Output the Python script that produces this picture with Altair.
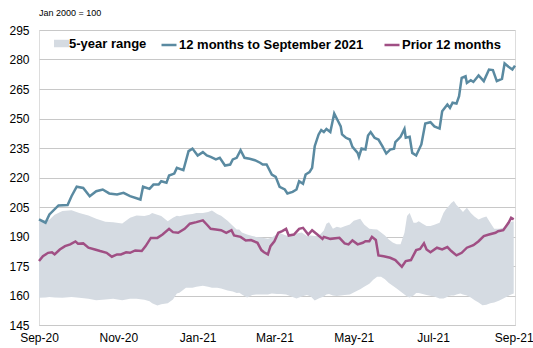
import altair as alt
import pandas as pd

START = pd.Timestamp("2020-09-01")

# 5-year range (day offsets from 1 Sep 2020)
band_day = [0, 5, 8, 12, 18, 25, 31, 38, 44, 51,
            57, 64, 70, 75, 81, 85, 87, 91, 94, 99,
            103, 106, 108, 113, 118, 121, 126, 130, 133, 137,
            140, 145, 149, 152, 154, 156, 160, 164, 167, 171,
            176, 179, 183, 186, 190, 194, 198, 202, 206, 209,
            212, 215, 219, 221, 223, 226, 229, 232, 235, 239,
            242, 245, 247, 250, 254, 257, 260, 263, 266, 269,
            272, 275, 278, 281, 283, 285, 288, 290, 292, 295,
            298, 301, 304, 308, 311, 313, 315, 317, 319, 321,
            324, 326, 329, 332, 335, 338, 341, 344, 347, 350,
            354, 357, 360, 363, 365]
band_high = [199, 198, 198.5, 201, 203, 203.4, 202, 200.7, 199, 197.5,
             197.3, 196.6, 199.5, 200.7, 200.4, 201, 202, 201, 200.4, 197.8,
             199.5, 200.5, 200.3, 201, 201.5, 202, 202, 202.5, 203.2, 201.5,
             200.5, 198, 195.5, 193.5, 193.5, 192, 191, 190.2, 189.8, 189.5,
             188.8, 189.5, 191.3, 191.5, 190.5, 190.2, 191.5, 192, 190.2, 190.5,
             190.2, 190.2, 193, 196.5, 197.3, 194, 195, 194.5, 195.2, 196.1,
             198, 198.7, 199, 196.1, 193.9, 193.7, 193.5, 192, 190.5, 188.5,
             187, 186, 186, 191.9, 200.4, 202, 197, 197, 197.8, 196.5,
             195.3, 195.3, 196, 197, 202, 204, 205.4, 207, 208, 206,
             204, 202.5, 204.6, 202, 200, 198.7, 199.5, 200.2, 197, 194,
             194, 194.5, 196, 197.5, 197.8]
band_low = [158.8, 159, 159.3, 159, 158.8, 159.3, 158.8, 158.3, 157.6, 158,
            158.3, 157.6, 158.3, 158.3, 157.8, 157.1, 156, 154.9, 155.5, 156,
            158, 161, 161.4, 164, 163.9, 164.5, 165, 164.5, 163.9, 163.9,
            163.5, 162.5, 162, 161.3, 161.4, 160.5, 159, 160.2, 160.5, 160.5,
            160.5, 161, 160.8, 160.8, 160.5, 159.5, 158.5, 159.5, 160.3, 159.5,
            157.5, 158.5, 159.5, 160.5, 160.8, 160, 159.7, 160, 160.2, 160.5,
            161.5, 162.5, 163.2, 164.5, 166, 168, 169.5, 169.5, 168.2, 166.4,
            165, 163.5, 162, 160.5, 159.5, 159, 160, 161.3, 161.3, 160.8,
            160.2, 159.9, 159.5, 158.5, 158.5, 159, 159.7, 160, 160, 160.5,
            161, 160.5, 160, 159, 157.6, 156.5, 155, 155.3, 156, 156.5,
            157.5, 158.5, 159.5, 160.5, 161]

# 12 months to September 2021
cur_day = [0, 5, 8, 15, 22, 25, 29, 34, 39, 44,
           49, 54, 60, 65, 70, 78, 80, 85, 88, 92,
           94, 98, 100, 104, 106, 111, 115, 118, 122, 126,
           129, 132, 136, 139, 143, 147, 149, 152, 155, 158,
           162, 166, 170, 172, 175, 179, 182, 185, 189, 191,
           195, 198, 200, 203, 205, 208, 210, 212, 215, 217,
           219, 221, 224, 227, 230, 232, 233, 236, 239, 241,
           245, 246, 248, 251, 253, 255, 258, 261, 264, 267,
           270, 273, 274, 278, 281, 282, 285, 287, 290, 294,
           297, 301, 304, 308, 310, 314, 316, 318, 321, 323,
           325, 328, 329, 332, 334, 338, 342, 346, 349, 352,
           356, 358, 361, 364, 366]
cur_val = [198.7, 197, 201.2, 205.8, 206, 210.5, 215.3, 214.7, 210.5, 213,
           213.9, 211.9, 211.4, 212.2, 210.5, 208.8, 215.3, 214.2, 216.4, 216.4,
           218.1, 217.3, 221, 222, 224.9, 223.7, 233.4, 234.7, 231.2, 232.9,
           231.2, 230.5, 229.2, 230, 226.1, 226.6, 229.2, 230, 233.9, 230,
           229.5, 228.8, 227.5, 226.6, 226.6, 221.5, 220.3, 215.3, 213.9, 211.9,
           212.7, 213.9, 218.1, 216.8, 221.5, 222.7, 224.9, 235.9, 241.9, 244.1,
           243.1, 244.7, 243.1, 252.5, 248.6, 246, 241.9, 240.2, 239.3, 235.6,
           232.5, 230.5, 234.7, 234.2, 241.4, 243.1, 240.2, 239.3, 235.9, 232.2,
           234.2, 234.6, 238, 240.7, 244.7, 240.2, 240.7, 232.5, 231.2, 236.8,
           247.5, 248.1, 246, 244.9, 253.7, 257.1, 255.4, 258, 257.6, 261.4,
           270.7, 271.5, 268.1, 269.5, 268.6, 271.9, 269, 274.9, 274.6, 269,
           270.2, 278, 276.3, 274.9, 276.9]

# Prior 12 months
prior_day = [0, 3, 7, 10, 12, 16, 20, 24, 28, 30,
             34, 38, 43, 47, 52, 56, 60, 63, 67, 70,
             74, 79, 82, 86, 91, 95, 100, 103, 107, 112,
             116, 121, 126, 129, 132, 136, 140, 144, 148, 150,
             155, 159, 163, 168, 171, 173, 176, 178, 181, 184,
             187, 190, 192, 196, 200, 203, 207, 210, 214, 218,
             219, 224, 231, 235, 238, 241, 245, 249, 251, 254,
             256, 259, 261, 265, 270, 274, 279, 282, 286, 290,
             293, 296, 298, 301, 306, 310, 314, 317, 321, 325,
             329, 334, 338, 342, 346, 351, 353, 357, 361, 363,
             365]
prior_val = [177.5, 180, 181.7, 182, 180.9, 183.4, 185.1, 186, 187.5, 186.3,
             186.5, 184.3, 183.4, 182.6, 181.7, 179.7, 180.9, 180.9, 182, 181.7,
             182.9, 182.6, 185.1, 189.3, 189.3, 191, 193.9, 192.2, 191.9, 193.9,
             196.5, 197.3, 198.2, 196.1, 193.9, 193.6, 193.2, 191.9, 193.2, 190.5,
             189.8, 188, 188.2, 186.8, 183.1, 182, 180.9, 185.1, 187.6, 191.9,
             192.7, 193.9, 190.5, 191, 193.9, 194.4, 191, 193.2, 191, 188.8,
             189.8, 188.8, 189.3, 186.5, 186, 188, 186, 186.8, 187.6, 187.6,
             189.8, 188.2, 180.4, 180, 179.2, 178, 174.6, 177.5, 178, 183.1,
             183.7, 186.5, 183.4, 182, 184.3, 183.4, 184.6, 182.6, 180.4, 181.7,
             184.3, 185.6, 187.6, 190.2, 191, 191.9, 192.7, 193.2, 197, 199.5,
             198.7]

series_names = ["5-year range", "12 months to September 2021", "Prior 12 months"]
colors = ["#d5dbe2", "#5a8aa1", "#a04f84"]
y_ticks = [145, 160, 175, 190, 205, 220, 235, 250, 265, 280, 295]

FONT = "Liberation Sans"


def to_dates(days):
    return START + pd.to_timedelta(days, unit="D")


band_df = pd.DataFrame({"date": to_dates(band_day), "high": band_high,
                        "low": band_low, "series": series_names[0]})
lines_df = pd.concat([
    pd.DataFrame({"date": to_dates(cur_day), "value": cur_val, "series": series_names[1]}),
    pd.DataFrame({"date": to_dates(prior_day), "value": prior_val, "series": series_names[2]}),
])

x_values = [alt.DateTime(year=2020, month=9, date=1), alt.DateTime(year=2020, month=11, date=1),
            alt.DateTime(year=2021, month=1, date=1), alt.DateTime(year=2021, month=3, date=1),
            alt.DateTime(year=2021, month=5, date=1), alt.DateTime(year=2021, month=7, date=1),
            alt.DateTime(year=2021, month=9, date=1)]

x_scale = alt.Scale(domain=[alt.DateTime(year=2020, month=9, date=1),
                            alt.DateTime(year=2021, month=9, date=2)])
y_scale = alt.Scale(domain=[145, 295], nice=False, zero=False)

x_axis = alt.Axis(values=x_values, format="%b-%y", title=None, grid=False,
                  ticks=False, domain=True, domainColor="#c8c8c8", domainWidth=1,
                  labelFont=FONT, labelFontSize=12, labelColor="#000",
                  labelPadding=7, labelFlush=False, labelOverlap=False,
                  labelBound=False)
y_axis = alt.Axis(values=y_ticks, title=None, grid=True, gridColor="#c8c8c8",
                  gridWidth=1, domain=False, ticks=False, labelFont=FONT,
                  labelFontSize=12, labelColor="#000", labelPadding=10,
                  labelOverlap=False)

band = alt.Chart(band_df).mark_area(opacity=1, interpolate="linear").encode(
    x=alt.X("date:T", scale=x_scale, axis=x_axis),
    y=alt.Y("high:Q", scale=y_scale, axis=y_axis),
    y2="low:Q",
    fill=alt.Fill("series:N",
                  scale=alt.Scale(domain=series_names[:1], range=colors[:1]),
                  legend=alt.Legend(orient="none", legendX=15, legendY=6,
                                    direction="horizontal", title=None,
                                    symbolType="M-1,-0.5H1V0.5H-1Z", symbolSize=225,
                                    symbolStrokeWidth=0, symbolOpacity=1,
                                    labelFont=FONT, labelFontSize=13,
                                    labelFontWeight="bold", labelColor="#000",
                                    labelOffset=0, labelLimit=300, padding=0)),
)

lines = alt.Chart(lines_df).mark_line(strokeWidth=2.5).encode(
    x=alt.X("date:T", scale=x_scale, axis=x_axis),
    y=alt.Y("value:Q", scale=y_scale, axis=y_axis),
    stroke=alt.Stroke("series:N",
                      scale=alt.Scale(domain=series_names[1:], range=colors[1:]),
                      legend=alt.Legend(orient="none", legendX=121, legendY=6,
                                        direction="horizontal", title=None,
                                        symbolType="stroke", symbolSize=225,
                                        symbolStrokeWidth=2.5, labelFont=FONT,
                                        labelFontSize=13, labelFontWeight="bold",
                                        labelColor="#000", labelOffset=1,
                                        labelLimit=300, columnPadding=15, padding=0)),
)

chart = alt.layer(band, lines).properties(
    width=476, height=295,
    title=alt.TitleParams("Jan 2000 = 100", anchor="start", frame="group", fontSize=9,
                          fontWeight="normal", font=FONT, color="#000", offset=6),
    autosize=alt.AutoSizeParams(type="none"),
    padding={"left": 39, "top": 30, "right": 18, "bottom": 23},
).configure_view(stroke=None).configure_axis(labelOverlap=False).configure(background="white")

chart.save("out.html", embed_options={"renderer": "svg", "actions": False})
